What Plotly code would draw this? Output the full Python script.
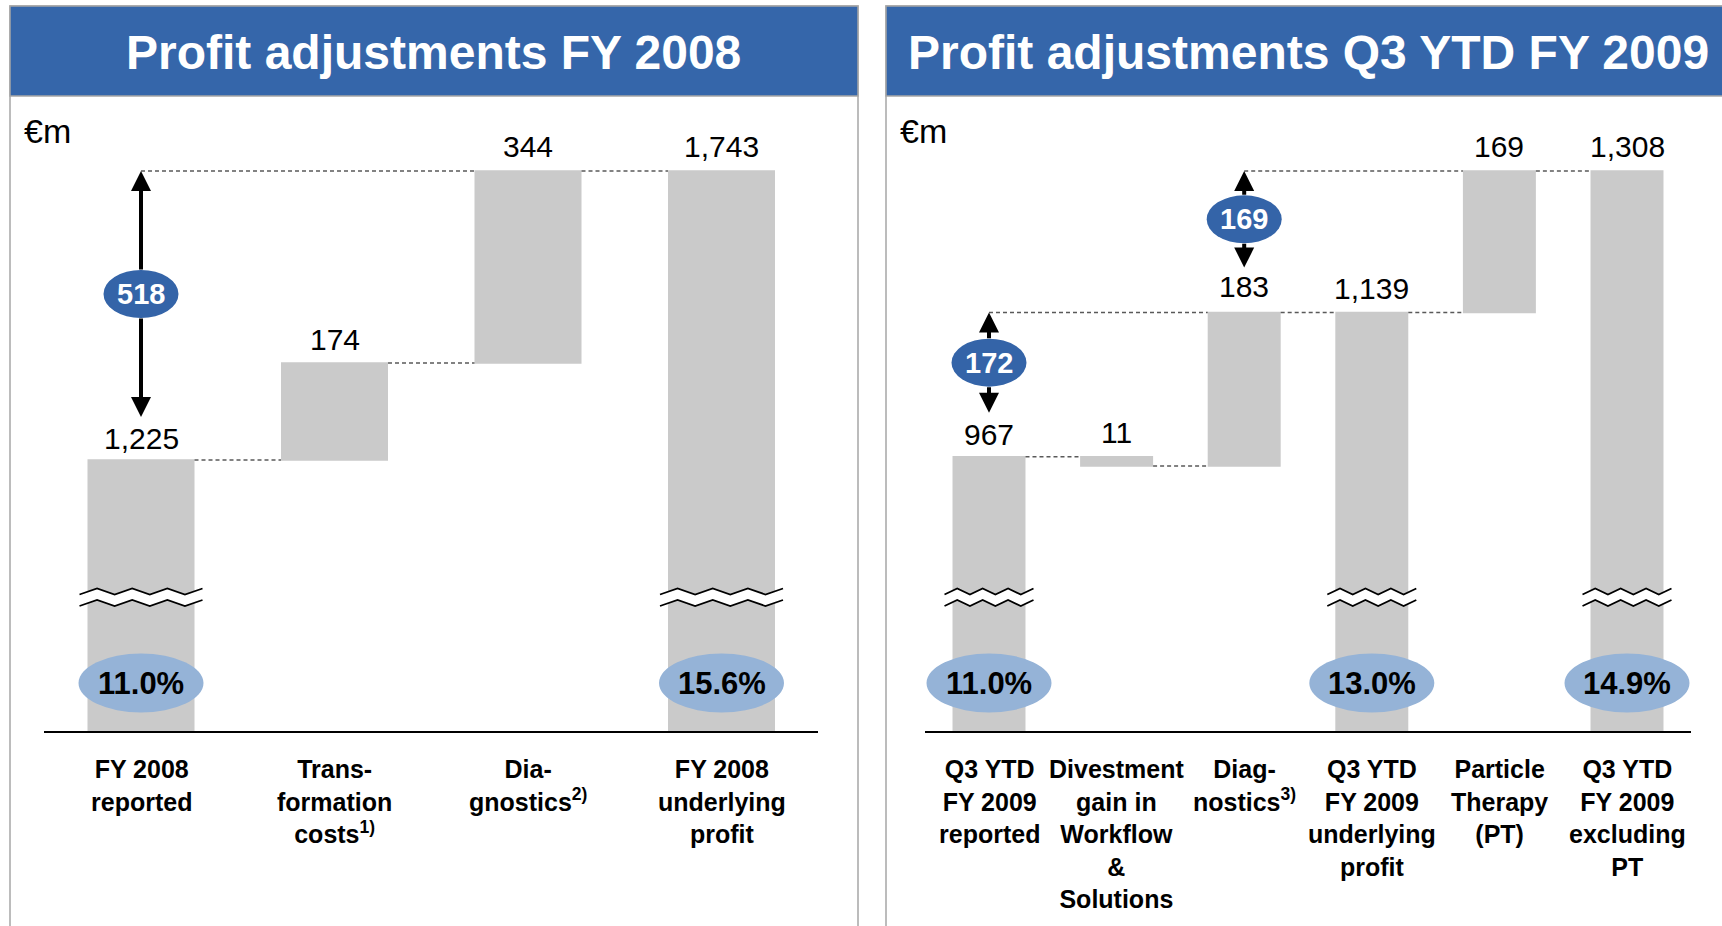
import plotly.graph_objects as go

# ---------------- data ----------------
left_title = "Profit adjustments FY 2008"
left_categories = ["FY 2008<br>reported", "Trans-<br>formation<br>costs<sup>1)</sup>",
                   "Dia-<br>gnostics<sup>2)</sup>", "FY 2008<br>underlying<br>profit"]
left_measures = ["absolute", "relative", "relative", "total"]
left_values = [1225, 174, 344, 0]
left_labels = ["1,225", "174", "344", "1,743"]
left_margins = ["11.0%", None, None, "15.6%"]
left_breaks = [0, 3]
# badge: (arrow at bar, low level of bar, high level of bar, text)
left_badges = [(0, 0, 3, "518")]

right_title = "Profit adjustments Q3 YTD FY 2009"
right_categories = ["Q3 YTD<br>FY 2009<br>reported",
                    "Divestment<br>gain in<br>Workflow<br>&amp;<br>Solutions",
                    "Diag-<br>nostics<sup>3)</sup>",
                    "Q3 YTD<br>FY 2009<br>underlying<br>profit",
                    "Particle<br>Therapy<br>(PT)",
                    "Q3 YTD<br>FY 2009<br>excluding<br>PT"]
right_measures = ["absolute", "relative", "relative", "total", "relative", "total"]
right_values = [967, -11, 183, 0, 169, 0]
right_labels = ["967", "11", "183", "1,139", "169", "1,308"]
right_margins = ["11.0%", None, None, "13.0%", None, "14.9%"]
right_breaks = [0, 3, 5]
right_badges = [(0, 0, 3, "172"), (2, 3, 5, "169")]

unit_label = "€m"

# ---------------- style ----------------
W, H = 1722, 926
FONT = "Liberation Sans, Arial, sans-serif"
BAR = "#CACACA"
HEADER = "#3566AA"
BADGE = "#3464A8"
ELLIPSE = "#95B3D7"
BORDER = "#A6A6A6"
DASH = "#595959"

AX_BOTTOM_PX = 731
AX_TOP_PX = 100
TOP_LEVEL_PX = 171


def px_x(p):
    return p / W


def px_y(p):
    return 1 - p / H


def levels(measures, values):
    starts, ends, cur = [], [], 0
    for m, v in zip(measures, values):
        if m == "absolute":
            starts.append(0); cur = v
        elif m == "relative":
            starts.append(cur); cur = cur + v
        else:
            starts.append(0)
        ends.append(cur)
    tops = [max(s, e) if m == "relative" else e for s, e, m in zip(starts, ends, measures)]
    return starts, ends, tops


panels = [
    dict(title=left_title, cats=left_categories, meas=left_measures, vals=left_values,
         labels=left_labels, margins=left_margins, breaks=left_breaks, badges=left_badges,
         xdom=(44.25, 818.25), ppu=289 / 518, barw=0.553, spacing=193.5,
         box=(10, 858), title_cx=433.5, unit_x=22, xa="x", ya="y", label_shift=[22, 23, 24, 24],
         badge_standoff=[43]),
    dict(title=right_title, cats=right_categories, meas=right_measures, vals=right_values,
         labels=right_labels, margins=right_margins, breaks=right_breaks, badges=right_badges,
         xdom=(925.2, 1690.8), ppu=285.7 / 341, barw=0.572, spacing=127.6,
         box=(886, 1760), title_cx=1308.5, unit_x=898, xa="x2", ya="y2",
         label_shift=[22, 24, 26, 24, 24, 24], badge_standoff=[44, 45]),
]

fig = go.Figure()
shapes = []
annotations = []

for k, p in enumerate(panels):
    n = len(p["cats"])
    starts, ends, tops = levels(p["meas"], p["vals"])
    top_level = max(tops)
    ppu = p["ppu"]
    y0 = top_level - (AX_BOTTOM_PX - TOP_LEVEL_PX) / ppu
    y1 = top_level + (TOP_LEVEL_PX - AX_TOP_PX) / ppu
    xr, yr = p["xa"], p["ya"]
    xk = "xaxis" if k == 0 else "xaxis2"
    yk = "yaxis" if k == 0 else "yaxis2"

    # panel frame + header
    bx0, bx1 = p["box"]
    shapes.append(dict(type="rect", xref="paper", yref="paper", x0=px_x(bx0), x1=px_x(bx1),
                       y0=px_y(945), y1=px_y(6), line=dict(color=BORDER, width=1.5),
                       fillcolor="rgba(0,0,0,0)", layer="below"))
    shapes.append(dict(type="rect", xref="paper", yref="paper", x0=px_x(bx0), x1=px_x(bx1),
                       y0=px_y(96), y1=px_y(6), line=dict(color=BORDER, width=1.5),
                       fillcolor=HEADER, layer="below"))
    annotations.append(dict(xref="paper", yref="paper", x=px_x(p["title_cx"]), y=px_y(52),
                            text=p["title"], showarrow=False, xanchor="center", yanchor="middle",
                            font=dict(family=FONT, size=48, color="white", weight="bold")))
    annotations.append(dict(xref="paper", yref="paper", x=px_x(p["unit_x"]), y=px_y(131),
                            text=unit_label, showarrow=False, xanchor="left", yanchor="middle",
                            font=dict(family=FONT, size=34, color="black")))

    fig.add_trace(go.Waterfall(
        x=list(range(n)), y=p["vals"], measure=p["meas"], xaxis=xr, yaxis=yr,
        width=p["barw"],
        increasing=dict(marker=dict(color=BAR, line=dict(width=0))),
        decreasing=dict(marker=dict(color=BAR, line=dict(width=0))),
        totals=dict(marker=dict(color=BAR, line=dict(width=0))),
        connector=dict(mode="between", line=dict(color=DASH, width=1.5, dash="4px,3px")),
        showlegend=False, hoverinfo="skip", textinfo="none",
    ))

    fig.layout[xk] = dict(domain=[px_x(p["xdom"][0]), px_x(p["xdom"][1])], range=[-0.5, n - 0.5],
                          showgrid=False, zeroline=False, showticklabels=False, ticks="",
                          showline=True, linecolor="black", linewidth=2, anchor=yr,
                          fixedrange=True)
    fig.layout[yk] = dict(domain=[px_y(AX_BOTTOM_PX), px_y(AX_TOP_PX)], range=[y0, y1],
                          visible=False, anchor=xr, fixedrange=True)

    # value labels
    for i, (lab, t) in enumerate(zip(p["labels"], tops)):
        annotations.append(dict(xref=xr, yref=yr, x=i, y=t, yshift=p["label_shift"][i],
                                text=lab, showarrow=False, yanchor="middle",
                                font=dict(family=FONT, size=30, color="black")))

    # category labels
    for i, c in enumerate(p["cats"]):
        annotations.append(dict(xref=xr, yref="paper", x=i, y=px_y(753), text=c,
                                showarrow=False, xanchor="center", yanchor="top",
                                font=dict(family=FONT, size=25, color="black", weight="bold")))

    # axis break marks
    half_px = p["barw"] * p["spacing"] / 2 + 8
    npts = 8
    xs = [-half_px + 2 * half_px * j / (npts - 1) for j in range(npts)]
    top_line = [(x, 3.0 if j % 2 == 0 else 9.0) for j, x in enumerate(xs)]
    bot_line = [(x, -8.5 if j % 2 == 0 else -2.5) for j, x in enumerate(xs)]
    for i in p["breaks"]:
        common = dict(type="path", xref=xr, yref="paper", xsizemode="pixel", ysizemode="pixel",
                      xanchor=i, yanchor=px_y(597.5))
        poly = "M" + " L".join(f"{x:.2f},{y:.2f}" for x, y in top_line + bot_line[::-1]) + " Z"
        shapes.append(dict(common, path=poly, fillcolor="white", line=dict(width=0)))
        for ln in (top_line, bot_line):
            path = "M" + " L".join(f"{x:.2f},{y:.2f}" for x, y in ln)
            shapes.append(dict(common, path=path, line=dict(color="black", width=1.8)))

    # margin ellipses
    for i, m in enumerate(p["margins"]):
        if m is None:
            continue
        shapes.append(dict(type="circle", xref=xr, yref="paper", xsizemode="pixel",
                           ysizemode="pixel", xanchor=i, yanchor=px_y(683),
                           x0=-62.5, x1=62.5, y0=-29.5, y1=29.5,
                           fillcolor=ELLIPSE, line=dict(width=0)))
        annotations.append(dict(xref=xr, yref="paper", x=i, y=px_y(683), text=m,
                                showarrow=False, yanchor="middle",
                                font=dict(family=FONT, size=31, color="black", weight="bold")))

    # difference badges with arrows and dashed guide lines
    for b, (ia, ilo, ihi, txt) in enumerate(p["badges"]):
        low, high = tops[ilo], tops[ihi]
        standoff = p["badge_standoff"][b]
        arrow_len_px = (high - low) * ppu - standoff
        mid_val = high - (arrow_len_px / 2) / ppu
        # guide line from arrow to next bar reaching the high level
        j = next(jj for jj in range(ia + 1, n) if abs(tops[jj] - high) < 1e-9)
        shapes.append(dict(type="line", xref=xr, yref=yr, x0=ia, x1=j - p["barw"] / 2,
                           y0=high, y1=high, line=dict(color=DASH, width=1.5, dash="4px,3px")))
        annotations.append(dict(xref=xr, yref=yr, axref=xr, ayref=yr, x=ia, y=high, ax=ia,
                                ay=mid_val, text="", showarrow=True, arrowhead=2, arrowsize=1,
                                arrowwidth=4, arrowcolor="black", startstandoff=23))
        annotations.append(dict(xref=xr, yref=yr, axref=xr, ayref=yr, x=ia, y=low, ax=ia,
                                ay=mid_val, text="", showarrow=True, arrowhead=2, arrowsize=1,
                                arrowwidth=4, arrowcolor="black", startstandoff=23,
                                standoff=standoff))
        shapes.append(dict(type="circle", xref=xr, yref=yr, xsizemode="pixel", ysizemode="pixel",
                           xanchor=ia, yanchor=mid_val, x0=-37.5, x1=37.5, y0=-24, y1=24,
                           fillcolor=BADGE, line=dict(width=0)))
        annotations.append(dict(xref=xr, yref=yr, x=ia, y=mid_val, text=txt, showarrow=False,
                                yanchor="middle",
                                font=dict(family=FONT, size=29, color="white", weight="bold")))

fig.update_layout(width=W, height=H, margin=dict(l=0, r=0, t=0, b=0),
                  paper_bgcolor="white", plot_bgcolor="white",
                  shapes=shapes, annotations=annotations, showlegend=False)

fig.write_html("out.html", config={"displayModeBar": False},
               post_script="document.body.style.margin='0';document.body.style.overflow='hidden';")
